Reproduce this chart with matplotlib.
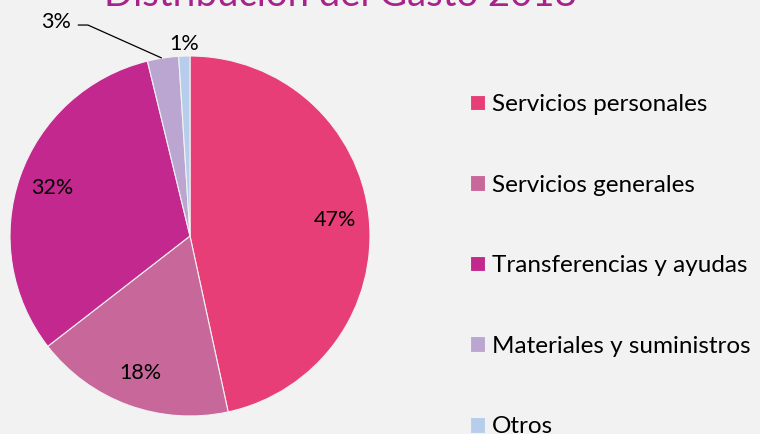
import matplotlib.pyplot as plt

# Distribución del gasto 2018 por capítulo
categorias = ["Servicios personales", "Servicios generales", "Transferencias y ayudas",
              "Materiales y suministros", "Otros"]
porcentajes = [46.6, 17.9, 31.7, 2.8, 1.0]
colores = ["#E83E77", "#C8679A", "#C2288D", "#BBA6D1", "#B6CDEB"]
fondo = "#F2F2F2"

plt.rcParams["font.family"] = ["Lato", "DejaVu Sans"]

fig = plt.figure(figsize=(7.6, 4.34), dpi=100, facecolor=fondo)
ax = fig.add_axes([10 / 760, 18 / 434, 360 / 760, 360 / 434])
ax.set_facecolor(fondo)

wedges, textos, autotextos = ax.pie(
    porcentajes, colors=colores, startangle=90, counterclock=False,
    autopct="%.0f%%", pctdistance=0.81,
    wedgeprops=dict(edgecolor=fondo, linewidth=0.8),
    textprops=dict(fontsize=15.5, color="black"),
)
ax.set_xlim(-1, 1)
ax.set_ylim(-1, 1)

# etiquetas pequeñas fuera del pastel
autotextos[4].set_position((-0.035, 1.067))
autotextos[3].set_position((-0.66, 1.19))
autotextos[3].set_ha("right")
ax.plot([-0.62, -0.567, -0.16], [1.172, 1.172, 0.99], color="black", lw=0.9, clip_on=False)

fig.text(340 / 760, 1 - 6 / 434, "Distribución del Gasto 2018", fontsize=27.5,
         color="#A7228A", ha="center", va="baseline")

leg = fig.legend(wedges, categorias, loc="upper left", bbox_to_anchor=(470 / 760, 1 - 94 / 434),
                 frameon=False, fontsize=17.5, handlelength=0.62, handleheight=0.62,
                 handletextpad=0.3, labelspacing=2.45, borderaxespad=0, borderpad=0)

fig.savefig("out.png", dpi=100, facecolor=fondo)
